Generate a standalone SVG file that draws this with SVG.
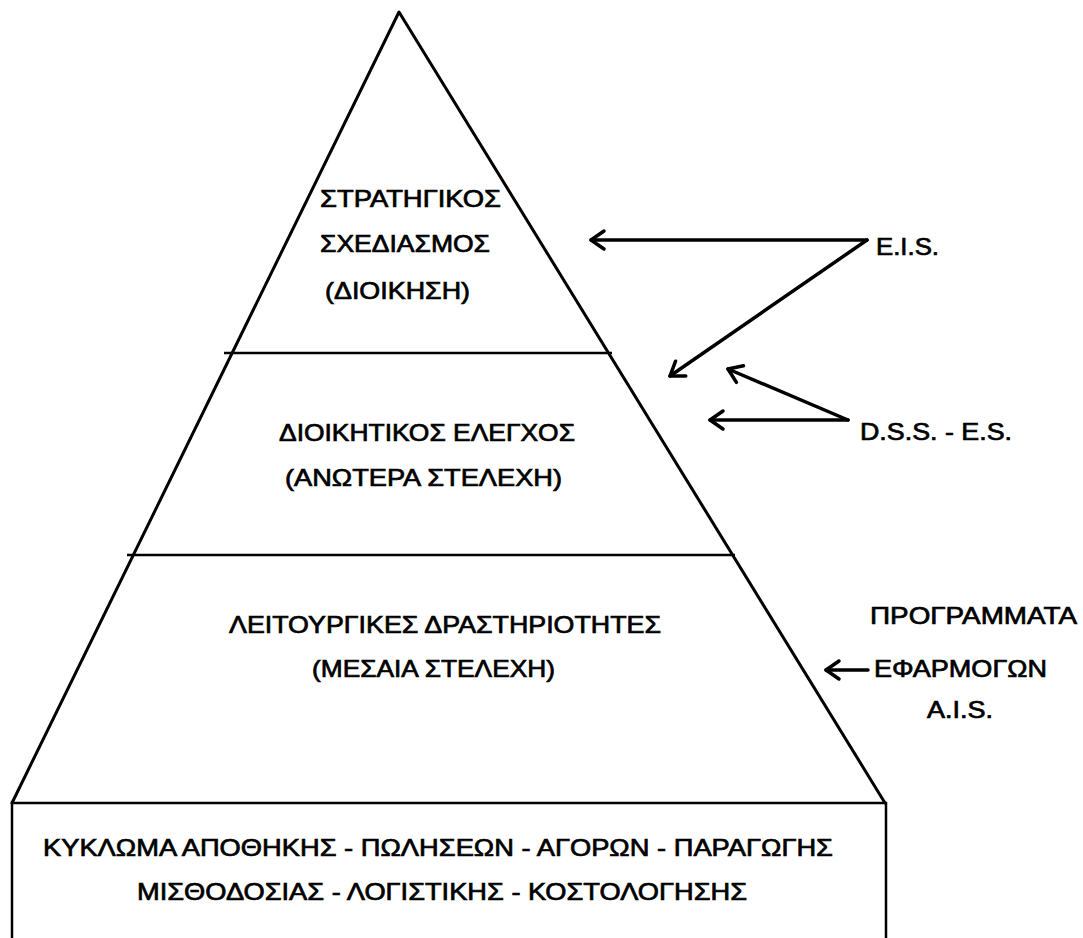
<svg xmlns="http://www.w3.org/2000/svg" width="1083" height="938" viewBox="0 0 1083 938">
<style>
  .ln { fill: none; stroke: #000; stroke-width: 3; stroke-linecap: round; stroke-linejoin: round; }
  .hl { fill: none; stroke: #000; stroke-width: 2.5; }
  .ar { fill: none; stroke: #000; stroke-width: 3.5; stroke-linecap: round; }
  text { font-family: "Liberation Sans", Arial, sans-serif; font-size: 24px; fill: #000; stroke: #000; stroke-width: 0.7; }
</style>
<defs>
  <marker id="ah" markerUnits="userSpaceOnUse" markerWidth="30" markerHeight="30" refX="16" refY="12" orient="auto" viewBox="0 0 30 24">
    <path d="M3,3 L16,12 L3,21" fill="none" stroke="#000" stroke-width="3.5" stroke-linecap="round" stroke-linejoin="round"/>
  </marker>
</defs>
<rect width="1083" height="938" fill="#fff"/>

<g id="pyramid">
  <path class="ln" d="M12,803 L399,12 L885,803"/>
  <line class="hl" x1="224" y1="353" x2="612" y2="353"/>
  <line class="hl" x1="127" y1="555" x2="735" y2="555"/>
</g>

<g id="level-strategic">
  <text x="320" y="207" textLength="181" lengthAdjust="spacingAndGlyphs">ΣΤΡΑΤΗΓΙΚΟΣ</text>
  <text x="320" y="252" textLength="170" lengthAdjust="spacingAndGlyphs">ΣΧΕΔΙΑΣΜΟΣ</text>
  <text x="325" y="299" textLength="145" lengthAdjust="spacingAndGlyphs">(ΔΙΟΙΚΗΣΗ)</text>
</g>

<g id="level-management">
  <text x="279" y="441" textLength="296" lengthAdjust="spacingAndGlyphs">ΔΙΟΙΚΗΤΙΚΟΣ ΕΛΕΓΧΟΣ</text>
  <text x="285" y="486" textLength="277" lengthAdjust="spacingAndGlyphs">(ΑΝΩΤΕΡΑ ΣΤΕΛΕΧΗ)</text>
</g>

<g id="level-operations">
  <text x="229" y="633" textLength="432" lengthAdjust="spacingAndGlyphs">ΛΕΙΤΟΥΡΓΙΚΕΣ ΔΡΑΣΤΗΡΙΟΤΗΤΕΣ</text>
  <text x="312" y="677" textLength="243" lengthAdjust="spacingAndGlyphs">(ΜΕΣΑΙΑ ΣΤΕΛΕΧΗ)</text>
</g>

<g id="base">
  <path class="hl" d="M12,938 L12,803 L886,803 L886,938"/>
  <text x="43" y="856" textLength="790" lengthAdjust="spacingAndGlyphs">ΚΥΚΛΩΜΑ ΑΠΟΘΗΚΗΣ - ΠΩΛΗΣΕΩΝ - ΑΓΟΡΩΝ - ΠΑΡΑΓΩΓΗΣ</text>
  <text x="137" y="900" textLength="610" lengthAdjust="spacingAndGlyphs">ΜΙΣΘΟΔΟΣΙΑΣ - ΛΟΓΙΣΤΙΚΗΣ - ΚΟΣΤΟΛΟΓΗΣΗΣ</text>
</g>

<g id="label-eis">
  <text x="876" y="255" textLength="63" lengthAdjust="spacingAndGlyphs">E.I.S.</text>
</g>

<g id="label-dss">
  <text x="860" y="440" textLength="152" lengthAdjust="spacingAndGlyphs">D.S.S. - E.S.</text>
</g>

<g id="label-ais">
  <text x="870" y="624" textLength="207" lengthAdjust="spacingAndGlyphs">ΠΡΟΓΡΑΜΜΑΤΑ</text>
  <text x="874" y="677" textLength="173" lengthAdjust="spacingAndGlyphs">ΕΦΑΡΜΟΓΩΝ</text>
  <text x="927" y="718" textLength="66" lengthAdjust="spacingAndGlyphs">A.I.S.</text>
</g>

<g id="connectors">
  <line class="ar" x1="867" y1="240" x2="591" y2="240" marker-end="url(#ah)"/>
  <line class="ar" x1="867" y1="240" x2="670" y2="376" marker-end="url(#ah)"/>
  <line class="ar" x1="848" y1="420" x2="728" y2="369" marker-end="url(#ah)"/>
  <line class="ar" x1="848" y1="420" x2="710" y2="420" marker-end="url(#ah)"/>
  <line class="ar" x1="868" y1="670" x2="826" y2="670" marker-end="url(#ah)"/>
</g>
</svg>
